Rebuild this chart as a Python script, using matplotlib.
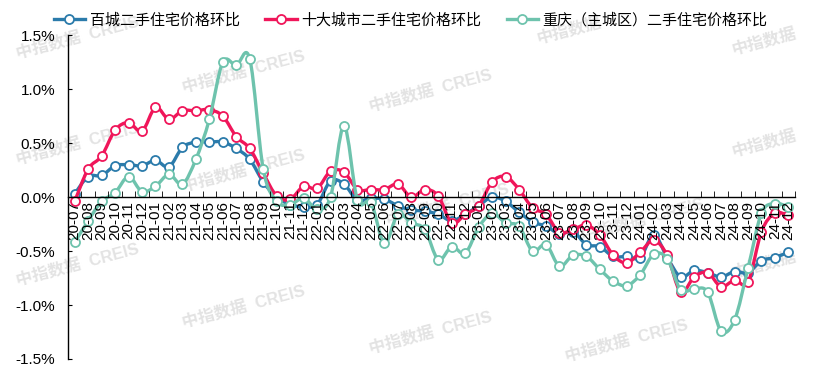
import matplotlib
matplotlib.use("Agg")
import matplotlib.pyplot as plt
from matplotlib.lines import Line2D
from matplotlib.patches import PathPatch
from matplotlib.path import Path
from matplotlib.ticker import FuncFormatter, MultipleLocator

# ─── data (month-on-month change, %) ─────────────────────────────────────────
months = [f"{y:02d}-{m:02d}" for y in range(20, 25) for m in range(1, 13)][6:]

baicheng = [0.03, 0.19, 0.20, 0.29, 0.30, 0.29, 0.34, 0.28, 0.46, 0.51,
            0.51, 0.51, 0.45, 0.35, 0.14, 0.00, -0.07, -0.09, -0.07, 0.15,
            0.12, -0.03, -0.01, -0.02, -0.08, -0.12, -0.13, -0.16, -0.22, -0.16,
            -0.08, 0.00, -0.04, -0.14, -0.23, -0.27, -0.34, -0.32, -0.44, -0.46,
            -0.55, -0.55, -0.56, -0.35, -0.56, -0.74, -0.68, -0.70, -0.74, -0.69,
            -0.70, -0.59, -0.56, -0.51]

shida = [-0.04, 0.26, 0.38, 0.62, 0.69, 0.61, 0.83, 0.72, 0.80, 0.80,
         0.81, 0.75, 0.56, 0.45, 0.22, 0.01, -0.02, 0.10, 0.08, 0.24,
         0.23, 0.07, 0.07, 0.07, 0.12, 0.00, 0.07, 0.01, -0.24, -0.16,
         -0.08, 0.14, 0.19, 0.07, -0.10, -0.16, -0.33, -0.30, -0.26, -0.35,
         -0.54, -0.61, -0.51, -0.40, -0.54, -0.88, -0.74, -0.70, -0.83, -0.77,
         -0.79, -0.32, -0.15, -0.17]

chongqing = [-0.42, -0.22, -0.04, 0.04, 0.19, 0.05, 0.10, 0.21, 0.12, 0.35,
             0.72, 1.25, 1.22, 1.28, 0.26, -0.04, -0.07, -0.01, -0.11, 0.00,
             0.66, -0.03, -0.05, -0.43, -0.16, -0.24, -0.30, -0.58, -0.46, -0.52,
             -0.28, -0.15, -0.24, -0.27, -0.50, -0.44, -0.64, -0.54, -0.55, -0.67,
             -0.78, -0.82, -0.72, -0.53, -0.57, -0.86, -0.85, -0.88, -1.24, -1.14,
             -0.66, -0.15, -0.06, -0.09]

series = [
    ("百城二手住宅价格环比", baicheng, "#2b7bab"),
    ("十大城市二手住宅价格环比", shida, "#f0165a"),
    ("重庆（主城区）二手住宅价格环比", chongqing, "#6ec3ad"),
]


def smooth_path(xs, ys):
    # Excel-style smoothed line: cubic Bezier segments through every point
    n = len(xs)
    verts = [(xs[0], ys[0])]
    codes = [Path.MOVETO]
    for i in range(n - 1):
        x0, y0 = xs[max(i - 1, 0)], ys[max(i - 1, 0)]
        x1, y1 = xs[i], ys[i]
        x2, y2 = xs[i + 1], ys[i + 1]
        x3, y3 = xs[min(i + 2, n - 1)], ys[min(i + 2, n - 1)]
        c1 = (x1 + (x2 - x0) / 6, y1 + (y2 - y0) / 6)
        c2 = (x2 - (x3 - x1) / 6, y2 - (y3 - y1) / 6)
        verts += [c1, c2, (x2, y2)]
        codes += [Path.CURVE4] * 3
    return Path(verts, codes)


plt.rcParams["font.family"] = ["Liberation Sans", "Noto Sans CJK SC", "DejaVu Sans"]
plt.rcParams["font.size"] = 11

fig = plt.figure(figsize=(8.13, 3.78), dpi=100)
ax = fig.add_axes([0.0836, 0.0503, 0.8944, 0.8567])
ax.set_facecolor("none")

# ─── watermarks ──────────────────────────────────────────────────────────────
wm_pos = [(0.095, 0.90), (0.30, 0.81), (0.53, 0.76), (0.30, 0.55), (0.55, 0.46),
          (0.79, 0.42), (0.095, 0.62), (0.095, 0.30), (0.30, 0.19), (0.53, 0.12),
          (0.77, 0.10)]
for wx, wy in wm_pos:
    ax.text(wx, wy, "中指数据  CREIS", transform=fig.transFigure, rotation=15,
            ha="center", va="center", fontsize=12, fontweight="bold",
            color="#e3e3e3", zorder=0.5, clip_on=False)
for wx, wy in [(0.94, 0.89), (0.94, 0.62), (0.94, 0.30), (0.70, 0.92)]:
    ax.text(wx, wy, "中指数据", transform=fig.transFigure, rotation=15,
            ha="center", va="center", fontsize=12, fontweight="bold",
            color="#e3e3e3", zorder=0.5, clip_on=False)

x = list(range(len(months)))
handles = []
for k, (name, vals, col) in enumerate(series):
    ax.add_patch(PathPatch(smooth_path(x, vals), facecolor="none", edgecolor=col,
                           lw=2.4, zorder=2 + k * 0.1, capstyle="round", joinstyle="round"))
    ax.plot(x, vals, ls="none", marker="o", ms=6.5, mfc="white", mec=col,
            mew=1.3, zorder=2.05 + k * 0.1)
    handles.append(Line2D([], [], color=col, lw=2.4, marker="o", ms=6.5,
                          mfc="white", mec=col, mew=1.3, label=name))

ax.set_xlim(-0.5, len(months) - 0.5)
ax.set_ylim(-1.5, 1.5)
ax.yaxis.set_major_locator(MultipleLocator(0.5))
ax.yaxis.set_major_formatter(FuncFormatter(lambda v, p: f"{v:.1f}%"))

for s in ["top", "right"]:
    ax.spines[s].set_visible(False)
ax.spines["bottom"].set_position(("data", 0))
ax.spines["left"].set_linewidth(1.0)
ax.spines["bottom"].set_linewidth(1.0)

ax.set_xticks(x)
ax.set_xticklabels(months, rotation=90, va="top", ha="center")
ax.set_xticks([i - 0.5 for i in range(len(months) + 1)], minor=True)
ax.tick_params(axis="x", which="major", length=0, pad=3)
ax.tick_params(axis="x", which="minor", direction="in", length=4)
ax.tick_params(axis="y", direction="in", length=3, pad=9)
ax.set_axisbelow(False)

fig.legend(handles=handles, loc="center", bbox_to_anchor=(0.505, 0.947),
           bbox_transform=fig.transFigure, ncol=3, frameon=False,
           handlelength=2.1, handletextpad=0.3, columnspacing=1.7, fontsize=10.8)

fig.savefig("out.png", dpi=100)
